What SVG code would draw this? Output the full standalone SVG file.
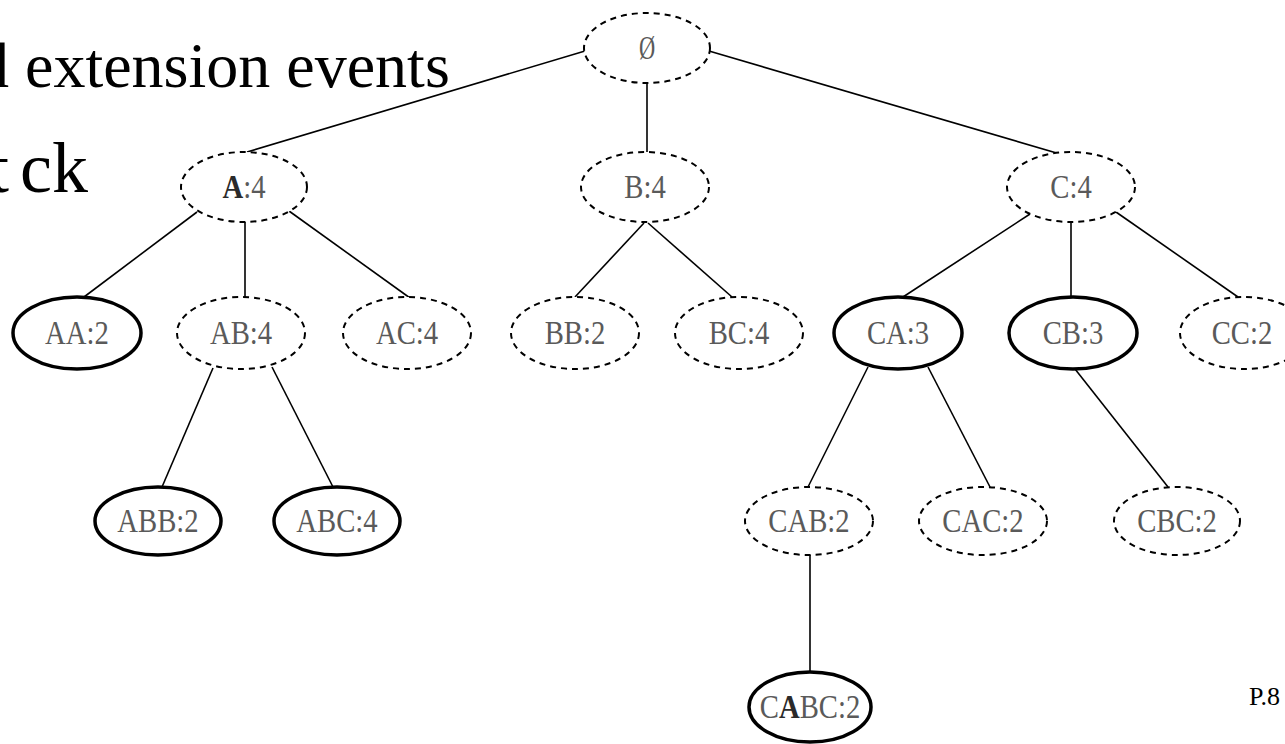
<svg xmlns="http://www.w3.org/2000/svg" width="1285" height="744" viewBox="0 0 1285 744">
<style>
.bg{fill:#fff}
.dn{fill:#fff;stroke:#000;stroke-width:2;stroke-dasharray:6 5}
.sn{fill:#fff;stroke:#000;stroke-width:3.5}
.lb{font-family:"Liberation Serif","Times New Roman",serif;font-size:33px;fill:#5a5a5a;text-anchor:middle}
.dk{font-weight:bold;fill:#2a2a2a}
.big{font-family:"Liberation Serif","Times New Roman",serif;fill:#000}
#edges line{stroke:#000;stroke-width:1.6}
</style>
<rect class="bg" x="0" y="0" width="1285" height="744"/>
<text class="big" x="-23" y="87" font-size="64">d extension events</text>
<text class="big" y="192" font-size="72"><tspan x="-11">t</tspan><tspan x="20">ck</tspan></text>
<text class="big" x="1249" y="705" font-size="26">P.8</text>
<g id="edges">
<line x1="585" y1="51" x2="247" y2="152"/>
<line x1="647" y1="83" x2="647" y2="152"/>
<line x1="709" y1="51" x2="1060" y2="154"/>
<line x1="197" y1="212" x2="84" y2="297"/>
<line x1="245" y1="222" x2="245" y2="297"/>
<line x1="289" y1="211" x2="410" y2="298"/>
<line x1="644" y1="223" x2="575" y2="297"/>
<line x1="648" y1="223" x2="732" y2="297"/>
<line x1="1030" y1="214" x2="903" y2="297"/>
<line x1="1071" y1="222" x2="1071" y2="297"/>
<line x1="1116" y1="212" x2="1238" y2="297"/>
<line x1="213" y1="368" x2="162" y2="487"/>
<line x1="272" y1="367" x2="333" y2="487"/>
<line x1="868" y1="367" x2="808" y2="487"/>
<line x1="928" y1="367" x2="990" y2="487"/>
<line x1="1075" y1="369" x2="1168" y2="487"/>
<line x1="810" y1="555" x2="810" y2="673"/>
</g>
<g id="n-root"><ellipse class="dn" cx="647" cy="48" rx="63" ry="35"/><text class="lb" transform="matrix(0.68 0 0 1 647 59)" font-size="32">Ø</text></g>
<g id="n-A"><ellipse class="dn" cx="244" cy="187" rx="63" ry="35"/><text class="lb" transform="matrix(0.87 0 0 1 244 198)"><tspan class="dk">A</tspan>:4</text></g>
<g id="n-B"><ellipse class="dn" cx="645" cy="187" rx="64" ry="35"/><text class="lb" transform="matrix(0.87 0 0 1 645 198)">B:4</text></g>
<g id="n-C"><ellipse class="dn" cx="1071" cy="187" rx="64" ry="35"/><text class="lb" transform="matrix(0.87 0 0 1 1071 198)">C:4</text></g>
<g id="n-AA"><ellipse class="sn" cx="77" cy="333" rx="64" ry="36"/><text class="lb" transform="matrix(0.87 0 0 1 77 344)">AA:2</text></g>
<g id="n-AB"><ellipse class="dn" cx="241" cy="333" rx="64" ry="36"/><text class="lb" transform="matrix(0.87 0 0 1 241 344)">AB:4</text></g>
<g id="n-AC"><ellipse class="dn" cx="407" cy="333" rx="64" ry="36"/><text class="lb" transform="matrix(0.87 0 0 1 407 344)">AC:4</text></g>
<g id="n-BB"><ellipse class="dn" cx="575" cy="333" rx="64" ry="36"/><text class="lb" transform="matrix(0.87 0 0 1 575 344)">BB:2</text></g>
<g id="n-BC"><ellipse class="dn" cx="739" cy="333" rx="64" ry="36"/><text class="lb" transform="matrix(0.87 0 0 1 739 344)">BC:4</text></g>
<g id="n-CA"><ellipse class="sn" cx="898" cy="333" rx="64" ry="36"/><text class="lb" transform="matrix(0.87 0 0 1 898 344)">CA:3</text></g>
<g id="n-CB"><ellipse class="sn" cx="1073" cy="333" rx="64" ry="36"/><text class="lb" transform="matrix(0.87 0 0 1 1073 344)">CB:3</text></g>
<g id="n-CC"><ellipse class="dn" cx="1244" cy="333" rx="64" ry="36"/><text class="lb" transform="matrix(0.87 0 0 1 1242 344)">CC:2</text></g>
<g id="n-ABB"><ellipse class="sn" cx="158" cy="521" rx="63" ry="34"/><text class="lb" transform="matrix(0.87 0 0 1 158 532)">ABB:2</text></g>
<g id="n-ABC"><ellipse class="sn" cx="337" cy="521" rx="63" ry="34"/><text class="lb" transform="matrix(0.87 0 0 1 337 532)">ABC:4</text></g>
<g id="n-CAB"><ellipse class="dn" cx="809" cy="521" rx="64" ry="34"/><text class="lb" transform="matrix(0.87 0 0 1 809 532)">CAB:2</text></g>
<g id="n-CAC"><ellipse class="dn" cx="983" cy="521" rx="64" ry="34"/><text class="lb" transform="matrix(0.87 0 0 1 983 532)">CAC:2</text></g>
<g id="n-CBC"><ellipse class="dn" cx="1177" cy="521" rx="63" ry="34"/><text class="lb" transform="matrix(0.87 0 0 1 1177 532)">CBC:2</text></g>
<g id="n-CABC"><ellipse class="sn" cx="810" cy="707" rx="61" ry="35"/><text class="lb" transform="matrix(0.87 0 0 1 810 718)">C<tspan class="dk">A</tspan>BC:2</text></g>
</svg>
